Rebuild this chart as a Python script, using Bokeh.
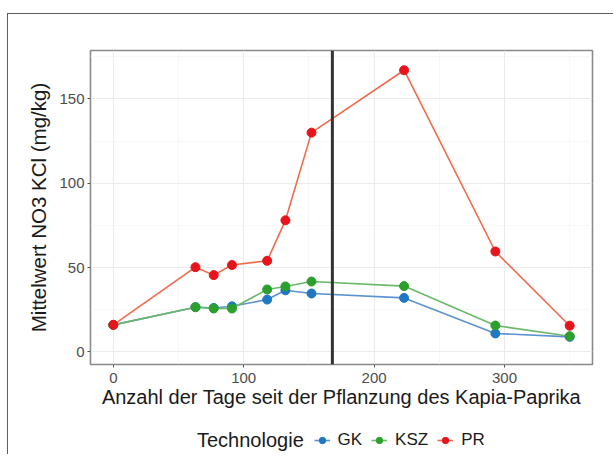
from bokeh.plotting import figure
from bokeh.models import Range1d, Span, Legend, LegendItem, FixedTicker, Label
from bokeh.layouts import column
from bokeh.embed import file_html
from bokeh.resources import INLINE

# ---- data ----
days = [0, 63, 77, 91, 118, 132, 152, 223, 293, 350]
gk = [16, 26.5, 26.0, 27.0, 31.0, 36.5, 34.6, 32.0, 10.9, 8.9]
ksz = [16, 26.5, 25.7, 25.7, 37.0, 38.8, 41.7, 39.0, 15.6, 9.3]
pr = [16, 50.2, 45.5, 51.5, 54.0, 78.0, 130.0, 167.0, 59.5, 15.5]
series_names = ["GK", "KSZ", "PR"]
legend_title = "Technologie"
vline_day = 168
x_ticks = [0, 100, 200, 300]
x_minor = [50, 150, 250, 350]
y_ticks = [0, 50, 100, 150]
y_minor = [25, 75, 125, 175]

point_colors = {"GK": "#1f78c1", "KSZ": "#2ca02c", "PR": "#e8141c"}
line_colors = {"GK": "#5b93cf", "KSZ": "#6cb86a", "PR": "#f26a4b"}

FONT = "Liberation Sans"
W = 605
FRAME_W = 502
LEG_H = 42

# ---------------- main panel ----------------
p = figure(width=W, height=398, output_backend="svg", toolbar_location=None,
           x_range=Range1d(-17.5, 367.5), y_range=Range1d(-7.5, 178.7),
           min_border_left=82, min_border_right=21, min_border_top=36,
           min_border_bottom=48)
p.background_fill_color = "white"
p.border_fill_color = "white"
p.outline_line_color = "#8a8a8a"
p.outline_line_width = 1.6

p.xaxis.ticker = FixedTicker(ticks=x_ticks, minor_ticks=x_minor)
p.yaxis.ticker = FixedTicker(ticks=y_ticks, minor_ticks=y_minor)
for g in (p.xgrid, p.ygrid):
    g.grid_line_color = "#ebebeb"
    g.grid_line_width = 1.1
    g.minor_grid_line_color = "#f3f3f3"
    g.minor_grid_line_width = 0.6

for ax in (p.xaxis, p.yaxis):
    ax.axis_line_color = None
    ax.major_tick_line_color = "#555555"
    ax.major_tick_out = 3
    ax.major_tick_in = 0
    ax.minor_tick_line_color = None
    ax.major_label_text_font = FONT
    ax.major_label_text_font_size = "15px"
    ax.major_label_text_color = "#4d4d4d"
    ax.axis_label_text_font = FONT
    ax.axis_label_text_font_style = "normal"
    ax.axis_label_text_color = "#1a1a1a"

p.xaxis.axis_label = "Anzahl der Tage seit der Pflanzung des Kapia-Paprika"
p.yaxis.axis_label = "Mittelwert NO3 KCl (mg/kg)"
p.xaxis.axis_label_text_font_size = "20px"
p.yaxis.axis_label_text_font_size = "20.5px"
p.xaxis.major_label_standoff = 4
p.xaxis.axis_label_standoff = 0
p.yaxis.major_label_standoff = 2
p.yaxis.axis_label_standoff = 6

vals = {"GK": gk, "KSZ": ksz, "PR": pr}
for name in series_names:
    p.line(days, vals[name], line_color=line_colors[name], line_width=1.6)
    p.scatter(days, vals[name], size=9, fill_color=point_colors[name],
              line_color=point_colors[name])

p.add_layout(Span(location=vline_day, dimension="height", line_color="#333333",
                  line_width=3))

# ---------------- legend strip (frame aligned with the panel above) ----------------
q = figure(width=W, height=LEG_H, output_backend="svg", toolbar_location=None,
           x_range=Range1d(0, FRAME_W), y_range=Range1d(-LEG_H, 0),
           x_axis_type=None, y_axis_type=None,
           min_border_left=0, min_border_right=0, min_border_top=0,
           min_border_bottom=0)
q.outline_line_color = None
q.xgrid.visible = False
q.ygrid.visible = False
q.background_fill_color = "white"
q.border_fill_color = "white"

items = []
for name in series_names:
    # same series; they fall outside this strip's ranges, only the legend keys show
    ln = q.line(days, vals[name], line_color=line_colors[name], line_width=1.6)
    sc = q.scatter(days, vals[name], size=9, fill_color=point_colors[name],
                   line_color=point_colors[name])
    items.append(LegendItem(label=name, renderers=[ln, sc]))

q.add_layout(Label(x=106.5, y=-27.5, text=legend_title, text_font=FONT,
                   text_font_size="20px", text_color="#1a1a1a",
                   text_baseline="middle", text_align="left"))

legend = Legend(items=items, orientation="horizontal", location=(223.5, LEG_H - 37.5))
legend.label_text_font = FONT
legend.label_text_font_size = "17px"
legend.label_text_color = "#1a1a1a"
legend.glyph_width = 16
legend.glyph_height = 16
legend.label_standoff = 8
legend.spacing = 9
legend.padding = 0
legend.margin = 0
legend.border_line_color = None
legend.background_fill_alpha = 0
q.add_layout(legend, "center")

layout = column(p, q, spacing=0,
                styles={"border-top": "1.5px solid #5e5e5e",
                        "border-left": "1.5px solid #5e5e5e",
                        "border-right": "none", "border-bottom": "none",
                        "margin-left": "7px", "margin-top": "13px"})

open("out.html", "w").write(file_html(layout, INLINE))
